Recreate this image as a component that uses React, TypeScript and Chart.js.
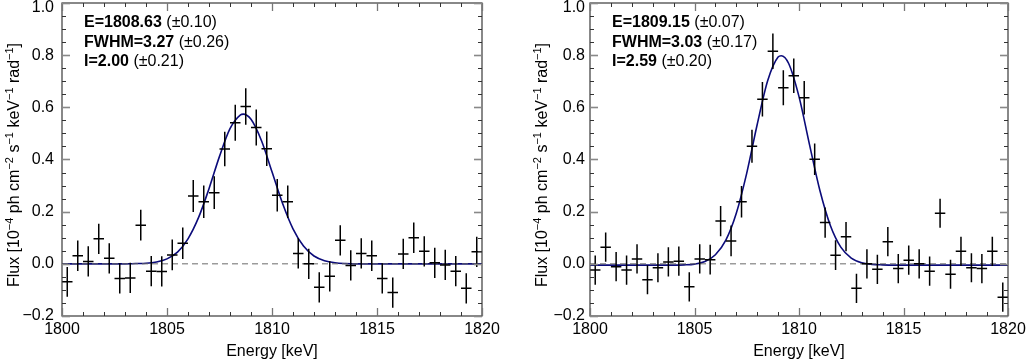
import React, { useEffect, useRef } from "react";
import { Chart, registerables } from "chart.js";

Chart.register(...registerables);

// ---------- data ----------
const ENERGY = [
  1800.25, 1800.75, 1801.25, 1801.75, 1802.25, 1802.75, 1803.25, 1803.75, 1804.25, 1804.75,
  1805.25, 1805.75, 1806.25, 1806.75, 1807.25, 1807.75, 1808.25, 1808.75, 1809.25, 1809.75,
  1810.25, 1810.75, 1811.25, 1811.75, 1812.25, 1812.75, 1813.25, 1813.75, 1814.25, 1814.75,
  1815.25, 1815.75, 1816.25, 1816.75, 1817.25, 1817.75, 1818.25, 1818.75, 1819.25, 1819.75,
];
const BIN_HALF_WIDTH = 0.25;

const FLUX_LEFT = [
  -0.069, 0.031, 0.009, 0.096, 0.021, -0.056, -0.054, 0.148, -0.028, -0.029,
  0.034, 0.079, 0.26, 0.238, 0.273, 0.44, 0.541, 0.603, 0.523, 0.441,
  0.263, 0.238, 0.04, 0.0, -0.09, -0.048, 0.09, -0.006, 0.04, 0.031,
  -0.056, -0.11, 0.038, 0.1, 0.048, 0.004, -0.004, -0.028, -0.094, 0.046,
];
const ERR_LEFT = [
  0.057, 0.058, 0.058, 0.058, 0.058, 0.058, 0.058, 0.059, 0.058, 0.058,
  0.059, 0.06, 0.061, 0.062, 0.063, 0.066, 0.069, 0.07, 0.069, 0.066,
  0.062, 0.062, 0.058, 0.058, 0.058, 0.058, 0.058, 0.058, 0.058, 0.058,
  0.058, 0.058, 0.058, 0.058, 0.058, 0.058, 0.058, 0.058, 0.058, 0.058,
];
const FLUX_RIGHT = [
  -0.024, 0.064, -0.011, -0.024, 0.019, -0.061, -0.015, 0.0075, 0.01, -0.088,
  0.019, 0.016, 0.164, 0.088, 0.238, 0.451, 0.631, 0.815, 0.675, 0.721,
  0.637, 0.401, 0.158, 0.033, 0.104, -0.094, 0.0, -0.021, 0.085, -0.018,
  0.014, 0.0, -0.028, 0.194, -0.04, 0.048, -0.015, -0.018, 0.048, -0.128,
];
const ERR_RIGHT = [
  0.056, 0.056, 0.056, 0.056, 0.056, 0.056, 0.056, 0.056, 0.056, 0.056,
  0.056, 0.057, 0.058, 0.059, 0.06, 0.063, 0.066, 0.068, 0.067, 0.066,
  0.064, 0.06, 0.058, 0.057, 0.056, 0.056, 0.056, 0.056, 0.056, 0.056,
  0.056, 0.056, 0.056, 0.056, 0.056, 0.056, 0.056, 0.056, 0.056, 0.056,
];

// fitted line profiles
const CURVE_E_LEFT = [
  1800, 1803, 1803.5, 1804, 1804.5, 1805, 1805.5, 1806, 1806.5, 1807, 1807.5, 1808, 1808.5,
  1808.63, 1809, 1809.5, 1810, 1810.5, 1811, 1811.5, 1812, 1812.5, 1813, 1813.5, 1814, 1820,
];
const CURVE_F_LEFT = [
  0, 0, 0.001, 0.002, 0.007, 0.019, 0.045, 0.096, 0.177, 0.288, 0.412, 0.518, 0.571,
  0.574, 0.554, 0.472, 0.353, 0.232, 0.134, 0.068, 0.03, 0.012, 0.004, 0.001, 0, 0,
];
const CURVE_E_RIGHT = [
  1800, 1804, 1804.5, 1805, 1805.5, 1806, 1806.5, 1807, 1807.5, 1808, 1808.5, 1809, 1809.15,
  1809.5, 1810, 1810.5, 1811, 1811.5, 1812, 1812.5, 1813, 1813.5, 1814, 1814.5, 1820,
];
const CURVE_F_RIGHT = [
  -0.005, -0.005, -0.004, -0.001, 0.009, 0.035, 0.091, 0.194, 0.348, 0.534, 0.702, 0.793, 0.798,
  0.769, 0.641, 0.458, 0.281, 0.147, 0.064, 0.022, 0.004, -0.002, -0.004, -0.005, -0.005,
];

const FIT_LEFT: [string, string][] = [
  ["E=1808.63", " (\u00b10.10)"],
  ["FWHM=3.27", " (\u00b10.26)"],
  ["I=2.00", " (\u00b10.21)"],
];
const FIT_RIGHT: [string, string][] = [
  ["E=1809.15", " (\u00b10.07)"],
  ["FWHM=3.03", " (\u00b10.17)"],
  ["I=2.59", " (\u00b10.20)"],
];

// ticks
const X_TICKS = [1800, 1805, 1810, 1815, 1820];
const X_MINOR = [1801, 1802, 1803, 1804, 1806, 1807, 1808, 1809, 1811, 1812, 1813, 1814, 1816, 1817, 1818, 1819];
const Y_TICKS = [-0.2, 0.0, 0.2, 0.4, 0.6, 0.8, 1.0];
const Y_TICK_LABELS = ["\u22120.2", "0.0", "0.2", "0.4", "0.6", "0.8", "1.0"];
const Y_MINOR = [
  -0.15, -0.1, -0.05, 0.05, 0.1, 0.15, 0.25, 0.3, 0.35, 0.45, 0.5, 0.55,
  0.65, 0.7, 0.75, 0.85, 0.9, 0.95,
];
const X_TITLE = "Energy [keV]";
// [text, isSuperscript]
const Y_TITLE: [string, boolean][] = [
  ["Flux [10", false], ["\u22124", true], [" ph cm", false], ["\u22122", true],
  [" s", false], ["\u22121", true], [" keV", false], ["\u22121", true],
  [" rad", false], ["\u22121", true], ["]", false],
];

const FONT = "'Liberation Sans', Arial, Helvetica, sans-serif";
const CURVE_COLOR = "#0b0b7a";

const decorPlugin = {
  id: "decor",
  afterDatasetsDraw(chart: any) {
    const ctx = chart.ctx;
    const xs = chart.scales.x;
    const ys = chart.scales.y;
    const ca = chart.chartArea;
    const ds = chart.data.datasets[2];
    ctx.save();
    ctx.beginPath();
    ctx.rect(ca.left, ca.top, ca.right - ca.left, ca.bottom - ca.top);
    ctx.clip();
    ctx.strokeStyle = "#000";
    ctx.lineWidth = 1.5;
    ds.data.forEach((p: any) => {
      const px = xs.getPixelForValue(p.x);
      const py = ys.getPixelForValue(p.y);
      const x0 = xs.getPixelForValue(p.x - p.xErr);
      const x1 = xs.getPixelForValue(p.x + p.xErr);
      const y0 = ys.getPixelForValue(p.y - p.yErr);
      const y1 = ys.getPixelForValue(p.y + p.yErr);
      ctx.beginPath();
      ctx.moveTo(x0, py);
      ctx.lineTo(x1, py);
      ctx.moveTo(px, y0);
      ctx.lineTo(px, y1);
      ctx.stroke();
    });
    ctx.restore();
  },
  afterDraw(chart: any, _args: any, opts: any) {
    const ctx = chart.ctx;
    const xs = chart.scales.x;
    const ys = chart.scales.y;
    const ca = chart.chartArea;
    ctx.save();
    // frame
    ctx.strokeStyle = "#3a3a3a";
    ctx.lineWidth = 1.2;
    ctx.strokeRect(ca.left, ca.top, ca.right - ca.left, ca.bottom - ca.top);
    const tick = (x0: number, y0: number, x1: number, y1: number, color: string, w: number) => {
      ctx.strokeStyle = color;
      ctx.lineWidth = w;
      ctx.beginPath();
      ctx.moveTo(x0, y0);
      ctx.lineTo(x1, y1);
      ctx.stroke();
    };
    X_MINOR.forEach((v) => {
      const x = Math.round(xs.getPixelForValue(v)) + 0.5;
      tick(x, ca.bottom, x, ca.bottom - 4, "#333", 1);
      tick(x, ca.top, x, ca.top + 4, "#333", 1);
    });
    X_TICKS.forEach((v) => {
      const x = Math.round(xs.getPixelForValue(v)) + 0.5;
      tick(x, ca.bottom, x, ca.bottom - 8, "#777", 1.3);
      tick(x, ca.top, x, ca.top + 8, "#777", 1.3);
    });
    Y_MINOR.forEach((v) => {
      const y = Math.round(ys.getPixelForValue(v)) + 0.5;
      tick(ca.left, y, ca.left + 4, y, "#333", 1);
      tick(ca.right, y, ca.right - 4, y, "#333", 1);
    });
    Y_TICKS.forEach((v) => {
      const y = Math.round(ys.getPixelForValue(v)) + 0.5;
      tick(ca.left, y, ca.left + 8, y, "#888", 1.6);
      tick(ca.right, y, ca.right - 8, y, "#888", 1.6);
    });
    // y tick labels
    ctx.fillStyle = "#000";
    ctx.font = `16px ${FONT}`;
    ctx.textAlign = "right";
    ctx.textBaseline = "middle";
    Y_TICK_LABELS.forEach((label, i) => {
      let y = ys.getPixelForValue(Y_TICKS[i]);
      y = Math.max(y, 8);
      ctx.fillText(label, ca.left - opts.labelGap, y);
    });
    // y title with superscripts
    ctx.textAlign = "left";
    ctx.textBaseline = "alphabetic";
    const normalFont = `16px ${FONT}`;
    const supFont = `11px ${FONT}`;
    let total = 0;
    Y_TITLE.forEach(([t, sup]) => {
      ctx.font = sup ? supFont : normalFont;
      total += ctx.measureText(t).width;
    });
    ctx.translate(ca.left - 43, opts.titleCenter);
    ctx.rotate(-Math.PI / 2);
    let cx = -total / 2;
    Y_TITLE.forEach(([t, sup]) => {
      ctx.font = sup ? supFont : normalFont;
      ctx.fillText(t, cx, sup ? -6.5 : 0);
      cx += ctx.measureText(t).width;
    });
    ctx.setTransform(1, 0, 0, 1, 0, 0);
    // fit annotation
    const fit: [string, string][] = opts.fit;
    const baselines = [27, 46.5, 66];
    fit.forEach(([b, n], i) => {
      const x = ca.left + 22;
      ctx.font = `bold 16px ${FONT}`;
      ctx.fillText(b, x, baselines[i]);
      const w = ctx.measureText(b).width;
      ctx.font = `16px ${FONT}`;
      ctx.fillText(n, x + w, baselines[i]);
    });
    ctx.restore();
  },
};

type PanelProps = {
  left: number;
  flux: number[];
  err: number[];
  curveE: number[];
  curveF: number[];
  fit: [string, string][];
  axisWidth: number;
  padRight: number;
  labelGap: number;
};

function Panel(props: PanelProps) {
  const ref = useRef<HTMLCanvasElement>(null);
  useEffect(() => {
    const { flux, err, curveE, curveF, fit, axisWidth, padRight, labelGap } = props;
    const points = ENERGY.map((e, i) => ({ x: e, y: flux[i], xErr: BIN_HALF_WIDTH, yErr: err[i] }));
    const curve = curveE.map((e, i) => ({ x: e, y: curveF[i] }));
    const chart = new Chart(ref.current as HTMLCanvasElement, {
      type: "scatter",
      data: {
        datasets: [
          {
            type: "line",
            data: [{ x: 1800, y: 0 }, { x: 1820, y: 0 }],
            borderColor: "#6a6a6a",
            borderWidth: 1,
            borderDash: [6, 4],
            pointRadius: 0,
          } as any,
          {
            type: "line",
            data: curve,
            borderColor: CURVE_COLOR,
            borderWidth: 1.6,
            pointRadius: 0,
            cubicInterpolationMode: "monotone",
          } as any,
          {
            type: "scatter",
            data: points,
            pointRadius: 0,
            showLine: false,
          } as any,
        ],
      },
      options: {
        animation: false,
        responsive: false,
        devicePixelRatio: 1,
        events: [],
        layout: { padding: { top: 3, right: padRight, left: 0, bottom: 0 } },
        plugins: {
          legend: { display: false },
          tooltip: { enabled: false },
          decor: { fit, labelGap, titleCenter: 165 },
        } as any,
        scales: {
          x: {
            type: "linear",
            min: 1800,
            max: 1820,
            afterBuildTicks: (s: any) => {
              s.ticks = X_TICKS.map((v) => ({ value: v }));
            },
            afterFit: (s: any) => {
              s.height = 45;
              s.paddingLeft = 0;
              s.paddingRight = 0;
            },
            ticks: {
              autoSkip: false,
              maxRotation: 0,
              padding: 4,
              color: "#000",
              font: { family: FONT, size: 16 },
              callback: (v: any) => String(v),
            },
            grid: { display: false, drawTicks: false },
            border: { display: false },
            title: {
              display: true,
              text: X_TITLE,
              color: "#000",
              font: { family: FONT, size: 16 },
              padding: { top: 0, bottom: 0 },
            },
          },
          y: {
            type: "linear",
            min: -0.2,
            max: 1.0,
            afterBuildTicks: (s: any) => {
              s.ticks = Y_TICKS.map((v) => ({ value: v }));
            },
            afterFit: (s: any) => {
              s.width = axisWidth;
              s.paddingTop = 0;
              s.paddingBottom = 0;
            },
            ticks: { display: false },
            grid: { display: false, drawTicks: false },
            border: { display: false },
          },
        },
      },
      plugins: [decorPlugin],
    } as any);
    return () => chart.destroy();
  }, []);
  return (
    <canvas
      ref={ref}
      width={513}
      height={361}
      style={{ position: "absolute", left: props.left, top: 0, width: 513, height: 361 }}
    />
  );
}

export default function App() {
  return (
    <div style={{ position: "absolute", left: 0, top: 0, width: 1026, height: 361, background: "#fff", overflow: "hidden" }}>
      <Panel
        left={0}
        flux={FLUX_LEFT}
        err={ERR_LEFT}
        curveE={CURVE_E_LEFT}
        curveF={CURVE_F_LEFT}
        fit={FIT_LEFT}
        axisWidth={62}
        padRight={31}
        labelGap={8}
      />
      <Panel
        left={513}
        flux={FLUX_RIGHT}
        err={ERR_RIGHT}
        curveE={CURVE_E_RIGHT}
        curveF={CURVE_F_RIGHT}
        fit={FIT_RIGHT}
        axisWidth={77}
        padRight={18}
        labelGap={5}
      />
    </div>
  );
}
